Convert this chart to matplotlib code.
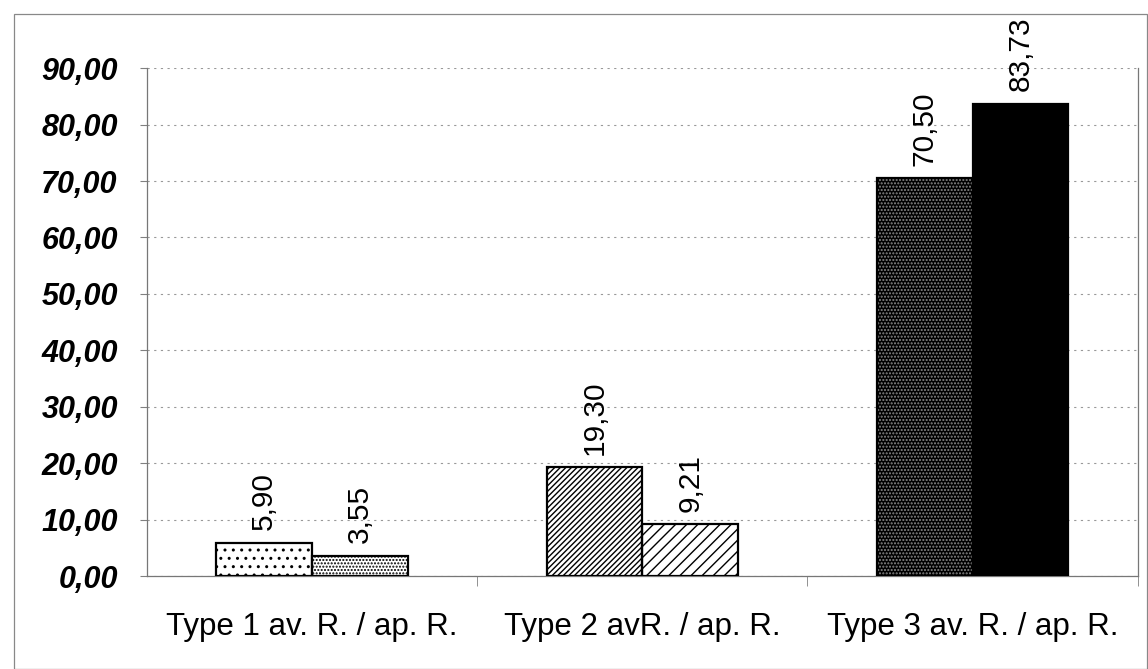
import matplotlib.pyplot as plt
from matplotlib.patches import Rectangle
from matplotlib.ticker import FuncFormatter, FixedLocator

# values
categories = ['Type 1 av. R. / ap. R.', 'Type 2 avR. / ap. R.', 'Type 3 av. R. / ap. R.']
av_values = [5.90, 19.30, 70.50]
ap_values = [3.55, 9.21, 83.73]
y_ticks = [0, 10, 20, 30, 40, 50, 60, 70, 80, 90]

plt.rcParams['font.family'] = ['Liberation Sans', 'DejaVu Sans']
plt.rcParams['hatch.linewidth'] = 1.0

fig = plt.figure(figsize=(11.48, 6.69), dpi=100)
ax = fig.add_axes([0.128, 0.139, 0.863, 0.759])

x = range(len(categories))
w = 0.29

# hatch styles per bar, (face, hatch, hatch colour)
av_styles = [('white', '..', 'black'), ('white', '//////', 'black'), ('black', '.....', '#8a8a8a')]
ap_styles = [('white', '.....', 'black'), ('white', '///', 'black'), ('black', '', 'black')]

def draw_bar(xpos, val, style):
    face, hatch, hcol = style
    ax.bar(xpos, val, w, color=face, edgecolor=hcol, hatch=hatch, linewidth=0, zorder=2)
    ax.bar(xpos, val, w, fill=False, edgecolor='black', linewidth=1.6, zorder=3)
    ax.annotate(f'{val:.2f}'.replace('.', ','), (xpos, val), xytext=(0, 9),
                textcoords='offset points', ha='center', va='bottom',
                rotation=90, fontsize=21.5)

for i in x:
    draw_bar(i - w / 2, av_values[i], av_styles[i])
    draw_bar(i + w / 2, ap_values[i], ap_styles[i])

ax.set_xlim(-0.5, 2.5)
ax.set_ylim(0, 90)
ax.set_yticks(y_ticks)
ax.yaxis.set_major_formatter(FuncFormatter(lambda v, p: f'{v:.2f}'.replace('.', ',')))
for lab in ax.get_yticklabels():
    lab.set_fontweight('bold')
    lab.set_fontstyle('italic')
    lab.set_fontsize(22)
ax.tick_params(axis='y', length=5, color='gray', pad=16)

ax.set_xticks(list(x))
ax.set_xticklabels(categories, fontsize=22.5)
ax.tick_params(axis='x', which='major', length=0, pad=26)
ax.xaxis.set_minor_locator(FixedLocator([0.5, 1.5, 2.5]))
ax.tick_params(axis='x', which='minor', length=7, color='gray')

ax.grid(axis='y', linestyle=(0, (2, 4)), color='#999999', linewidth=0.8, zorder=0)
ax.set_axisbelow(True)
ax.spines['top'].set_visible(False)
for s in ['left', 'bottom', 'right']:
    ax.spines[s].set_color('#777777')
    ax.spines[s].set_linewidth(0.9)

# thin frame around the whole chart
fig.patches.append(Rectangle((0.012, 0.0), 0.987, 0.979, transform=fig.transFigure,
                             fill=False, edgecolor='#888888', linewidth=0.9))

fig.savefig('out.png', dpi=100)
